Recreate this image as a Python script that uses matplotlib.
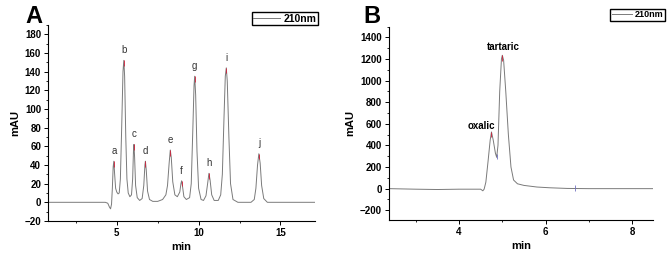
import matplotlib
matplotlib.use('Agg')
from matplotlib import pyplot as plt

plt.rcParams['font.family'] = ['Liberation Sans', 'DejaVu Sans']

# panel A: traced chromatogram (min, mAU)
a_time = [0.8, 4.3, 4.45, 4.55, 4.62, 4.68, 4.73, 4.78, 4.82, 4.87, 4.93, 5.0, 5.08,
          5.15, 5.22, 5.3, 5.38, 5.43, 5.48, 5.55, 5.62, 5.7, 5.8, 5.9, 5.97, 6.02,
          6.05, 6.09, 6.15, 6.25, 6.4, 6.55, 6.65, 6.72, 6.75, 6.8, 6.88, 7.0, 7.2,
          7.5, 7.8, 8.0, 8.1, 8.2, 8.27, 8.33, 8.42, 8.55, 8.7, 8.85, 8.92, 8.96,
          9.01, 9.1, 9.25, 9.45, 9.55, 9.65, 9.72, 9.76, 9.82, 9.9, 10.0, 10.15,
          10.3, 10.45, 10.55, 10.63, 10.7, 10.8, 10.95, 11.2, 11.35, 11.45, 11.55,
          11.63, 11.69, 11.75, 11.85, 11.95, 12.1, 12.4, 13.2, 13.4, 13.5, 13.6,
          13.68, 13.76, 13.85, 13.98, 14.2, 17.1]
a_mau = [0, 0, -1, -5, -7, -2, 15, 38, 44, 30, 15, 11, 9,
         10, 25, 80, 140, 152, 135, 70, 25, 10, 6, 8, 25, 55,
         62, 48, 18, 5, 2, 4, 18, 40, 44, 35, 12, 3, 1,
         1, 3, 8, 18, 42, 56, 48, 22, 8, 6, 11, 20, 23,
         18, 6, 3, 5, 20, 80, 125, 135, 115, 55, 15, 3,
         2, 7, 20, 31, 24, 8, 2, 2, 8, 30, 90,
         135, 144, 130, 70, 20, 3, 0, 0, 3, 15, 40,
         52, 42, 18, 4, 0, 0]

a_labels = ['a', 'b', 'c', 'd', 'e', 'f', 'g', 'h', 'i', 'j']
a_peak_t = [4.82, 5.43, 6.05, 6.75, 8.27, 8.96, 9.76, 10.63, 11.69, 13.68]
a_peak_h = [44, 152, 62, 44, 56, 23, 135, 31, 144, 52]

# panel B
b_time = [2.38, 3.0, 3.5, 4.0, 4.5, 4.55, 4.58, 4.62, 4.67, 4.72, 4.75, 4.79, 4.84,
          4.87, 4.9, 4.94, 4.98, 5.0, 5.03, 5.08, 5.14, 5.2, 5.26, 5.35, 5.5, 5.8,
          6.1, 6.5, 7.0, 8.48]
b_mau = [0, -5, -8, -5, -5, -20, -5, 60, 250, 450, 525, 450, 330,
         290, 400, 900, 1200, 1235, 1190, 900, 500, 200, 80, 45, 30, 15,
         8, 2, 0, 0]
b_labels = ['oxalic', 'tartaric']
b_peak_t = [4.75, 5.0]
b_peak_h = [525, 1235]

gray = '#7a7a7a'

fig = plt.figure(figsize=(6.67, 2.54), dpi=100)
axA = fig.add_axes([0.072, 0.130, 0.400, 0.772])
axB = fig.add_axes([0.583, 0.134, 0.396, 0.761])


def style(ax):
    for s in ['top', 'right']:
        ax.spines[s].set_visible(False)
    for s in ['left', 'bottom']:
        ax.spines[s].set_linewidth(0.8)
    ax.tick_params(which='major', direction='out', length=3, width=0.7,
                   labelsize=7, pad=2)
    ax.tick_params(which='minor', direction='out', length=1.5, width=0.6)
    for lab in ax.get_xticklabels() + ax.get_yticklabels():
        lab.set_fontweight('bold')
    ax.set_xlabel('min', fontsize=8, fontweight='bold', labelpad=3)
    ax.set_ylabel('mAU', fontsize=8, fontweight='bold', labelpad=3)


# A
axA.plot(a_time, a_mau, color=gray, lw=0.7, label='210nm')
axA.vlines(a_peak_t, [h - 6 for h in a_peak_h], a_peak_h, color='#d0203a', lw=0.6)
for t, h, s in zip(a_peak_t, a_peak_h, a_labels):
    axA.text(t, h + 11, s, ha='center', va='center', fontsize=7, color='#333333')
axA.set_xlim(0.8, 17.1)
axA.set_ylim(-20, 190)
axA.set_xticks([5, 10, 15])
axA.set_xticks([2.5, 7.5, 12.5], minor=True)
axA.set_yticks(range(-20, 181, 20))
axA.set_yticks(range(-10, 191, 20), minor=True)
style(axA)
axA.legend(loc='upper right', bbox_to_anchor=(318 / 667, 1 - 12 / 254),
           bbox_transform=fig.transFigure, fancybox=False, edgecolor='black',
           framealpha=1, prop={'size': 7.5, 'weight': 'bold'}, handlelength=2.6,
           borderpad=0.15, handletextpad=0.3, borderaxespad=0)
fig.text(25 / 667, 1 - 23 / 254, 'A', fontsize=17, fontweight='bold')

# B
axB.plot(b_time, b_mau, color=gray, lw=0.7, label='210nm')
axB.vlines(b_peak_t, [h - 50 for h in b_peak_h], b_peak_h, color='#d0203a', lw=0.6)
axB.vlines([4.87, 6.68], [270, -25], [320, 30], color='#7070c0', lw=0.6)
axB.text(4.52, 580, b_labels[0], ha='center', va='center', fontsize=7, fontweight='bold')
axB.text(5.03, 1310, b_labels[1], ha='center', va='center', fontsize=7, fontweight='bold')
axB.set_xlim(2.38, 8.48)
axB.set_ylim(-290, 1500)
axB.set_xticks([4, 6, 8])
axB.set_xticks([3, 5, 7], minor=True)
axB.set_yticks(range(-200, 1401, 200))
axB.set_yticks(range(-100, 1501, 200), minor=True)
style(axB)
axB.legend(loc='upper right', bbox_to_anchor=(665 / 667, 1 - 9 / 254),
           bbox_transform=fig.transFigure, fancybox=False, edgecolor='black',
           framealpha=1, prop={'size': 6.5, 'weight': 'bold'}, handlelength=2.3,
           borderpad=0.15, handletextpad=0.3, borderaxespad=0)
fig.text(363 / 667, 1 - 23 / 254, 'B', fontsize=17, fontweight='bold')

fig.savefig('out.png', dpi=100)
